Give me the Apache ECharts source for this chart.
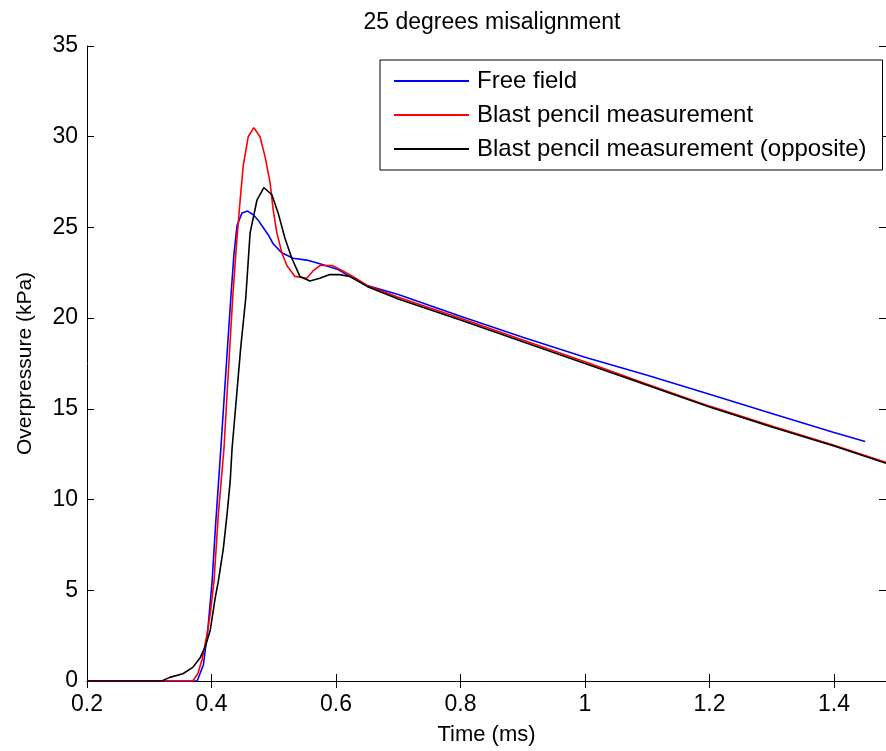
<!DOCTYPE html>
<html>
<head>
<meta charset="utf-8">
<script src="https://cdn.jsdelivr.net/npm/echarts@6/dist/echarts.min.js"></script>
<style>
html,body{margin:0;padding:0;background:#fff;}
#chart{width:886px;height:751px;}
</style>
</head>
<body>
<div id="chart"></div>
<script>
var seriesNames = ["Free field", "Blast pencil measurement", "Blast pencil measurement (opposite)"];

var freeT = [0.2, 0.377, 0.387, 0.394, 0.401, 0.406, 0.415, 0.423, 0.431, 0.436, 0.441, 0.449, 0.458, 0.467, 0.475, 0.483, 0.491, 0.499, 0.513, 0.531, 0.553, 0.574, 0.602, 0.622, 0.65, 0.7, 0.8, 0.9, 1.0, 1.1, 1.2, 1.3, 1.4, 1.45];
var freeV = [0, 0, 0.9, 2.8, 5.5, 8.3, 12.8, 17.0, 21.1, 23.5, 25.1, 25.8, 25.9, 25.7, 25.4, 25.0, 24.6, 24.1, 23.6, 23.3, 23.2, 23.0, 22.7, 22.3, 21.8, 21.3, 20.1, 18.95, 17.85, 16.85, 15.8, 14.75, 13.7, 13.2];

var pencilT = [0.2, 0.370, 0.378, 0.385, 0.393, 0.398, 0.404, 0.411, 0.420, 0.427, 0.434, 0.440, 0.446, 0.451, 0.459, 0.468, 0.478, 0.486, 0.494, 0.499, 0.505, 0.513, 0.521, 0.534, 0.553, 0.563, 0.574, 0.594, 0.611, 0.627, 0.65, 0.7, 0.8, 0.9, 1.0, 1.1, 1.2, 1.3, 1.4, 1.4835];
var pencilV = [0, 0, 0.4, 1.2, 2.6, 3.7, 5.5, 9.2, 12.8, 17.0, 21.1, 24.0, 26.5, 28.4, 30.0, 30.5, 30.0, 28.9, 27.5, 26.0, 24.7, 23.6, 22.9, 22.3, 22.2, 22.6, 22.9, 22.9, 22.6, 22.3, 21.8, 21.15, 20.0, 18.8, 17.6, 16.35, 15.15, 14.05, 13.0, 12.05];

var oppT = [0.2, 0.320, 0.333, 0.354, 0.370, 0.382, 0.390, 0.398, 0.406, 0.411, 0.419, 0.425, 0.430, 0.433, 0.440, 0.447, 0.455, 0.462, 0.473, 0.484, 0.497, 0.507, 0.518, 0.529, 0.542, 0.558, 0.574, 0.590, 0.606, 0.622, 0.65, 0.7, 0.8, 0.9, 1.0, 1.1, 1.2, 1.3, 1.4, 1.4835];
var oppV = [0, 0, 0.2, 0.4, 0.75, 1.3, 1.9, 2.8, 4.6, 5.5, 7.3, 9.2, 11.0, 12.8, 15.6, 18.4, 21.1, 24.7, 26.5, 27.2, 26.8, 25.8, 24.4, 23.3, 22.3, 22.05, 22.2, 22.4, 22.4, 22.3, 21.75, 21.05, 19.9, 18.7, 17.5, 16.3, 15.1, 14.0, 12.95, 12.0];

var xMin = 0.2, xMax = 1.4835, xStep = 0.2;
var yMin = 0, yMax = 35, yStep = 5;

function zip(t, v) { return t.map(function (x, i) { return [x, v[i]]; }); }

var FONT = 'Liberation Sans, Arial, Helvetica, sans-serif';
var chart = echarts.init(document.getElementById('chart'), null, {renderer: 'canvas'});

var axisCommon = {
  axisLine: {show: true, lineStyle: {color: '#000', width: 1}},
  axisTick: {show: true, inside: true, length: 7, lineStyle: {color: '#000', width: 1}},
  splitLine: {show: false}
};

chart.setOption({
  animation: false,
  backgroundColor: '#fff',
  title: {
    text: '25 degrees misalignment',
    left: 487, top: 6, textAlign: 'center',
    textStyle: {fontFamily: FONT, fontSize: 23, fontWeight: 'normal', color: '#000'}
  },
  legend: {
    data: seriesNames,
    orient: 'vertical',
    left: 380, top: 60,
    padding: [9, 16, 9, 14],
    itemGap: 10,
    itemWidth: 75, itemHeight: 2,
    icon: 'rect',
    borderColor: '#000', borderWidth: 1,
    backgroundColor: '#fff',
    textStyle: {fontFamily: FONT, fontSize: 24, color: '#000', lineHeight: 24, padding: [0, 0, 0, 3]}
  },
  grid: {left: 87, right: 0, top: 46, bottom: 67, containLabel: false},
  xAxis: [
    Object.assign({
      type: 'value', min: xMin, max: xMax, interval: xStep, position: 'bottom',
      name: 'Time (ms)', nameLocation: 'middle', nameGap: 43,
      nameTextStyle: {fontFamily: FONT, fontSize: 22, color: '#000'},
      axisLabel: {
        fontFamily: FONT, fontSize: 23, color: '#000', margin: 12,
        showMaxLabel: false,
        formatter: function (v) { return String(Math.round(v * 10) / 10); }
      }
    }, axisCommon),
    Object.assign({
      type: 'value', min: xMin, max: xMax, interval: xStep, position: 'top',
      axisLabel: {show: false}
    }, axisCommon)
  ],
  yAxis: [
    Object.assign({
      type: 'value', min: yMin, max: yMax, interval: yStep, position: 'left',
      name: 'Overpressure (kPa)', nameLocation: 'middle', nameGap: 51,
      nameTextStyle: {fontFamily: FONT, fontSize: 21, color: '#000'},
      axisLabel: {fontFamily: FONT, fontSize: 23, color: '#000', margin: 9}
    }, axisCommon),
    Object.assign({
      type: 'value', min: yMin, max: yMax, interval: yStep, position: 'right',
      axisLabel: {show: false}
    }, axisCommon)
  ],
  series: [
    {name: seriesNames[0], type: 'line', data: zip(freeT, freeV), symbol: 'none', color: '#0000ff',
     lineStyle: {width: 1.6, color: '#0000ff'}, z: 2},
    {name: seriesNames[1], type: 'line', data: zip(pencilT, pencilV), symbol: 'none', color: '#ff0000',
     lineStyle: {width: 1.6, color: '#ff0000'}, z: 3},
    {name: seriesNames[2], type: 'line', data: zip(oppT, oppV), symbol: 'none', color: '#000000',
     lineStyle: {width: 1.6, color: '#000000'}, z: 4}
  ]
});
</script>
</body>
</html>
